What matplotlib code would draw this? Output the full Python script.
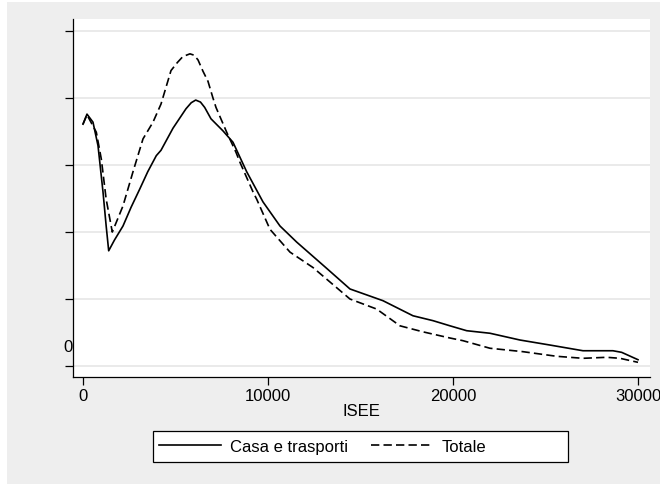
import numpy as np
import matplotlib.pyplot as plt
from matplotlib.patches import Rectangle
from matplotlib.lines import Line2D

plt.rcParams['font.family'] = ['Liberation Sans', 'DejaVu Sans']

# densita' (unita' = passo della griglia) contro ISEE
isee_casa = [0, 216, 540, 811, 1081, 1253, 1389, 1700, 2162, 2600, 3065, 3500,
             3962, 4216, 4865, 5567, 5850, 6092, 6350, 6578, 6919, 7567, 8108, 8848, 9729,
             10648, 11550, 13080, 14431, 16215, 17837, 18918, 19837, 20739,
             21998, 23620, 25241, 27025, 28646, 29117, 30000]
dens_casa = [3.61, 3.76, 3.64, 3.29, 2.60, 2.09, 1.72, 1.88, 2.09, 2.37, 2.64, 2.90,
             3.14, 3.22, 3.55, 3.84, 3.93, 3.97, 3.94, 3.86, 3.69, 3.51, 3.34, 2.90, 2.45,
             2.09, 1.85, 1.48, 1.15, 0.975, 0.75, 0.677, 0.60, 0.527,
             0.489, 0.388, 0.313, 0.228, 0.228, 0.204, 0.094]

isee_tot = [0, 216, 720, 990, 1253, 1584, 2162, 2703, 3243, 3784, 4216, 4757,
            5100, 5400, 5783, 6000, 6216, 6486, 6756, 7026, 7189, 7767, 8270, 8486, 9189,
            9389, 10108, 11189, 12432, 14431, 15874, 17134, 18378, 19837, 20540,
            21998, 23782, 25603, 27025, 28306, 29026, 30000]
dens_tot = [3.61, 3.75, 3.49, 3.09, 2.49, 2.00, 2.39, 2.90, 3.39, 3.64, 3.91, 4.41,
            4.53, 4.62, 4.66, 4.64, 4.57, 4.40, 4.25, 4.00, 3.86, 3.49, 3.19, 3.04, 2.60,
            2.49, 2.04, 1.70, 1.47, 1.00, 0.85, 0.60, 0.51, 0.418, 0.378,
            0.265, 0.214, 0.145, 0.115, 0.130, 0.115, 0.055]

xticks = [0, 10000, 20000, 30000]
yticks = [0, 1, 2, 3, 4, 5]

fig = plt.figure(figsize=(6.6, 4.85), dpi=100, facecolor='white')
fig.patches.append(Rectangle((7 / 660, 0), 1, 1 - 3 / 485, transform=fig.transFigure,
                             facecolor='#eeeeee', edgecolor='none', zorder=-10))

ax = fig.add_axes([73 / 660, 107 / 485, 577 / 660, 358 / 485])
ax.set_facecolor('white')

ax.plot(isee_casa, dens_casa, color='black', lw=1.2, label='Casa e trasporti')
ax.plot(isee_tot, dens_tot, color='black', lw=1.2, linestyle=(0, (5, 2.5)), label='Totale')

ax.set_xlim(-540, 30648)
ax.set_ylim(-0.164, 5.18)
ax.set_xticks(xticks)
ax.set_xticklabels([str(v) for v in xticks])
ax.set_yticks(yticks)
ax.set_yticklabels([''] * len(yticks))
ax.grid(axis='y', color='#e6e6e6', lw=1.2)
ax.set_axisbelow(True)

for s in ['top', 'right']:
    ax.spines[s].set_visible(False)
for s in ['left', 'bottom']:
    ax.spines[s].set_linewidth(0.9)
ax.tick_params(axis='both', direction='out', length=6, width=0.9, labelsize=12, pad=2)
ax.set_xlabel('ISEE', fontsize=12, labelpad=0)

# etichetta "0" dell'asse y come nell'originale
fig.text(68 / 660, 1 - 347 / 485, '0', fontsize=12, ha='center', va='center')

# box della legenda
fig.patches.append(Rectangle((153 / 660, 1 - 463 / 485), 415 / 660, 31 / 485,
                             transform=fig.transFigure, facecolor='white',
                             edgecolor='black', lw=0.9, zorder=5))
handles = [Line2D([], [], color='black', lw=1.2),
           Line2D([], [], color='black', lw=1.2, linestyle=(0, (5, 2.5)))]
leg = fig.legend(handles, ['Casa e trasporti', 'Totale'], loc='center left',
                 bbox_to_anchor=(153 / 660, 1 - 447.5 / 485), ncol=2, frameon=False,
                 fontsize=12, handlelength=3.7, handletextpad=0.55, columnspacing=1.4,
                 borderaxespad=0, borderpad=0.35)
leg.set_zorder(6)

plt.savefig('out.png', dpi=100, facecolor=fig.get_facecolor())
